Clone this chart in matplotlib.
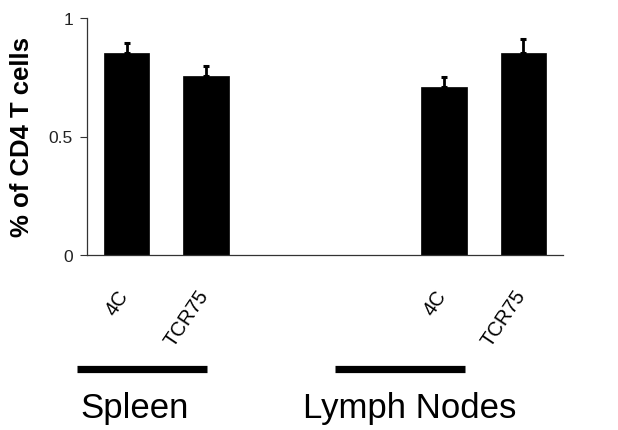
import matplotlib
matplotlib.use("Agg")
import matplotlib.pyplot as plt
import matplotlib.transforms as mtransforms

# ---- data ----
categories = ["4C", "TCR75", "4C", "TCR75"]
groups = ["Spleen", "Lymph Nodes"]
positions = [0, 1, 4, 5]
means = [0.851, 0.754, 0.710, 0.851]
errors = [0.042, 0.045, 0.040, 0.060]
yticks = [0, 0.5, 1]
ytick_labels = ["0", "0.5", "1"]
ylabel = "% of CD4 T cells"

plt.rcParams['font.family'] = ['Liberation Sans', 'DejaVu Sans']

fig = plt.figure(figsize=(6.18, 4.31), dpi=100)
ax = fig.add_axes([87/618, 1-256/431, 476/618, 237/431])

ax.bar(positions, means, width=0.57, color='black', edgecolor='black', linewidth=0.5)
ax.errorbar(positions, means, yerr=[[0]*len(means), errors], fmt='none',
            ecolor='black', elinewidth=2.0, capsize=2.3, capthick=2.2)

ax.set_xlim(-0.5, 5.5)
ax.set_ylim(0, 1)
ax.set_yticks(yticks)
ax.set_yticklabels(ytick_labels, fontsize=12.5, color='#222222')
ax.tick_params(axis='y', direction='out', length=5, width=0.8, color='#333333', pad=5)
ax.set_xticks([])
for s in ['top', 'right']:
    ax.spines[s].set_visible(False)
for s in ['left', 'bottom']:
    ax.spines[s].set_color('#333333')
    ax.spines[s].set_linewidth(0.9)

ax.set_ylabel(ylabel, fontsize=18.5, fontweight='bold')
ax.yaxis.set_label_coords(-0.111, 0.5)

# rotated category labels
blend = mtransforms.blended_transform_factory(ax.transData, ax.transAxes)
off = mtransforms.ScaledTranslation(6/100, -31/100, fig.dpi_scale_trans)
for x, lab in zip(positions, categories):
    ax.text(x, 0, lab, rotation=56, ha='right', va='top', fontsize=14.5,
            transform=blend + off)

# group lines and labels
blend_fig = mtransforms.blended_transform_factory(ax.transData, fig.transFigure)
group_lines = [(-0.626, 1.013), (2.625, 4.264)]
group_text_x = [0.105, 3.57]
for (x0, x1), tx, g in zip(group_lines, group_text_x, groups):
    ax.plot([x0, x1], [1-370/431, 1-370/431], color='black', linewidth=5.2,
            transform=blend_fig, clip_on=False, solid_capstyle='butt')
    ax.text(tx, 1-418/431, g, ha='center', va='baseline', fontsize=25,
            transform=blend_fig)

fig.savefig("out.png", dpi=100)
